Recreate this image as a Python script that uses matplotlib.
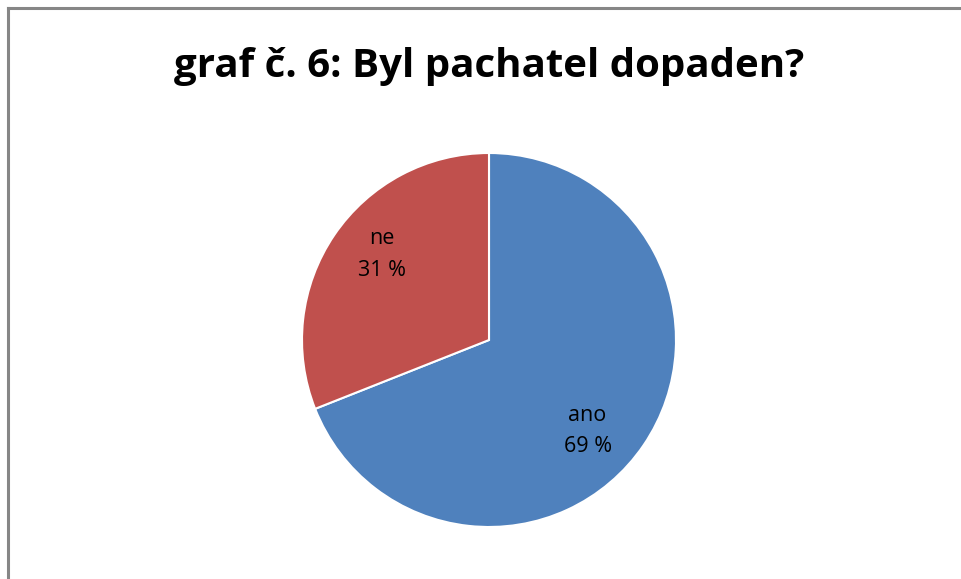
import matplotlib
matplotlib.use('Agg')
import matplotlib.pyplot as plt
from matplotlib.lines import Line2D

# Data
categories = ['ano', 'ne']
values = [69, 31]
colors = ['#4F81BD', '#C0504D']
title = 'graf č. 6: Byl pachatel dopaden?'

fig = plt.figure(figsize=(9.62, 5.79), dpi=100)
fig.patch.set_facecolor('white')

# Gray frame (top and left visible)
fig.add_artist(Line2D([8 / 962, 1], [1 - 8 / 579, 1 - 8 / 579], color='#868686', lw=2.2,
                      transform=fig.transFigure))
fig.add_artist(Line2D([8 / 962, 8 / 962], [0, 1 - 8 / 579], color='#868686', lw=2.2,
                      transform=fig.transFigure))

ax = fig.add_axes([302 / 962, (579 - 527) / 579, 374 / 962, 374 / 579])

labels_txt = [f'{c}\n{v} %' for c, v in zip(categories, values)]
wedges, texts = ax.pie(values, colors=colors, startangle=90, counterclock=False,
                       wedgeprops=dict(edgecolor='white', linewidth=1.5),
                       labels=labels_txt, labeldistance=0.71,
                       textprops=dict(fontsize=15.5, family=['Open Sans', 'DejaVu Sans'],
                                      ha='center', va='center', linespacing=1.65))
# nudge labels like the original layout
offsets = [(-0.06, -0.086), (0.016, 0.059)]
for t, (dx, dy) in zip(texts, offsets):
    x, y = t.get_position()
    t.set_position((x + dx, y + dy))
    t.set_horizontalalignment('center')
ax.set_xlim(-1, 1)
ax.set_ylim(-1, 1)
ax.set_aspect('equal')

fig.text(489 / 962, 1 - 66 / 579, title, ha='center', va='center', fontsize=29,
         fontweight='bold', family=['Open Sans', 'DejaVu Sans'])

plt.savefig('out.png', dpi=100)
plt.close()
